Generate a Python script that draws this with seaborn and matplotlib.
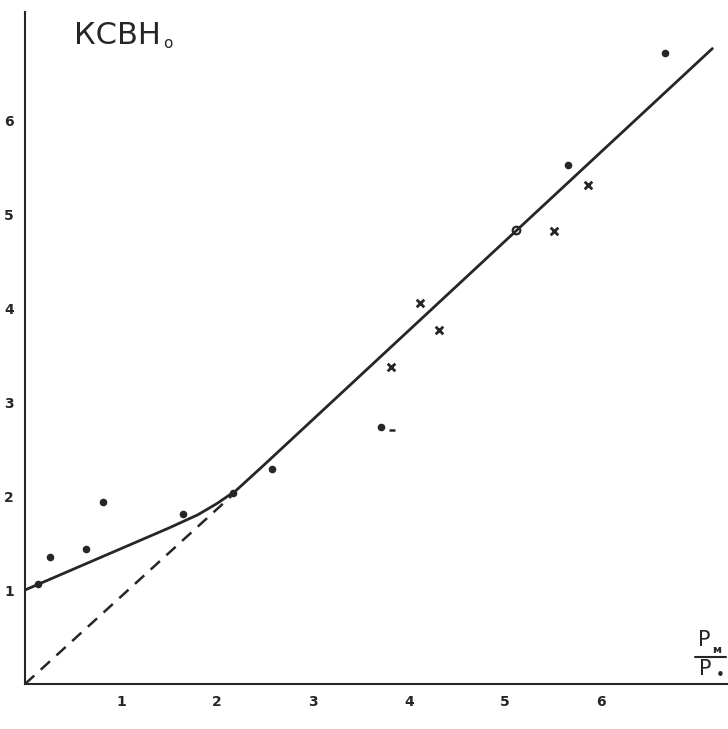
import numpy as np
import pandas as pd
import matplotlib
matplotlib.use("Agg")
import matplotlib.pyplot as plt
import seaborn as sns

# ---- data ----
dot_x = [0.14, 0.26, 0.64, 0.81, 1.65, 2.17, 2.57, 3.71, 5.66, 6.67]
dot_y = [1.06, 1.35, 1.44, 1.94, 1.81, 2.03, 2.29, 2.73, 5.52, 6.71]
cross_x = [3.81, 4.11, 4.31, 5.51, 5.86]
cross_y = [3.37, 4.05, 3.77, 4.82, 5.31]
open_x = [5.11]
open_y = [4.83]
dash_pt_x = [3.82]
dash_pt_y = [2.70]
curve_x = [0.0, 0.5, 1.0, 1.5, 1.8, 2.0, 2.2, 2.5, 7.16]
curve_y = [1.0, 1.22, 1.44, 1.66, 1.80, 1.92, 2.06, 2.34, 6.76]
diag_x = [0.0, 2.15]
diag_y = [0.0, 2.0]
xticks = [1, 2, 3, 4, 5, 6]
yticks = [1, 2, 3, 4, 5, 6]

sns.set_theme(style="white")
plt.rcParams['font.family'] = ['DejaVu Sans']

W, H = 728, 729
fig = plt.figure(figsize=(W / 100, H / 100), dpi=100)
ox, oy = 25, 684            # origin pixel
xmax = (W - ox) / 96.0
ymax = (oy - 12) / 94.0
ax = fig.add_axes([ox / W, (H - oy) / H, (W - ox) / W, (oy - 12) / H])
ax.set_facecolor("white")
fig.patch.set_facecolor("white")

ink = "#262626"

df_curve = pd.DataFrame({"x": curve_x, "y": curve_y})
df_diag = pd.DataFrame({"x": diag_x, "y": diag_y})
sns.lineplot(data=df_curve, x="x", y="y", ax=ax, color=ink, lw=2.0, sort=False)
sns.lineplot(data=df_diag, x="x", y="y", ax=ax, color=ink, lw=1.8, sort=False,
             dashes=False, linestyle=(0, (5, 3.5)))

sns.scatterplot(x=dot_x, y=dot_y, ax=ax, color=ink, s=30, edgecolor=ink, linewidth=0)
sns.scatterplot(x=cross_x, y=cross_y, ax=ax, color=ink, marker="x", s=30, linewidth=2.0)
sns.scatterplot(x=open_x, y=open_y, ax=ax, facecolor="white", edgecolor=ink, s=30, linewidth=1.6)
sns.scatterplot(x=dash_pt_x, y=dash_pt_y, ax=ax, color=ink, marker="_", s=20, linewidth=1.8)

ax.set_xlim(0, xmax)
ax.set_ylim(0, ymax)
for side in ["top", "right"]:
    ax.spines[side].set_visible(False)
for side in ["left", "bottom"]:
    ax.spines[side].set_color(ink)
    ax.spines[side].set_linewidth(1.5)

ax.set_xticks(xticks)
ax.set_yticks(yticks)
ax.set_xticklabels([str(t) for t in xticks])
ax.set_yticklabels([str(t) for t in yticks])
ax.tick_params(axis="both", direction="inout", length=6, width=1.2, color=ink,
               labelsize=10, labelcolor=ink, pad=5)
for lab in ax.get_xticklabels() + ax.get_yticklabels():
    lab.set_fontweight("bold")
ax.set_xlabel("")
ax.set_ylabel("")
ax.grid(False)

# axis titles
fig.text(74 / W, 1 - 36 / H, "КСВН", fontsize=22, color=ink, va="center", ha="left")
fig.text(163 / W, 1 - 44 / H, "o", fontsize=11, color=ink, va="center", ha="left")
fig.text(698 / W, 1 - 640 / H, "P", fontsize=15, color=ink, va="center", ha="left")
fig.text(712 / W, 1 - 650 / H, "м", fontsize=8, color=ink, va="center", ha="left",
         fontweight="bold")
fig.add_artist(plt.Line2D([695 / W, 726 / W], [1 - 657 / H, 1 - 657 / H],
                          color=ink, lw=1.5, transform=fig.transFigure))
fig.text(699 / W, 1 - 669 / H, "P", fontsize=15, color=ink, va="center", ha="left")
fig.text(720 / W, 1 - 675 / H, "•", fontsize=11, color=ink, va="center", ha="center")

fig.savefig("out.png", dpi=100, facecolor="white")
